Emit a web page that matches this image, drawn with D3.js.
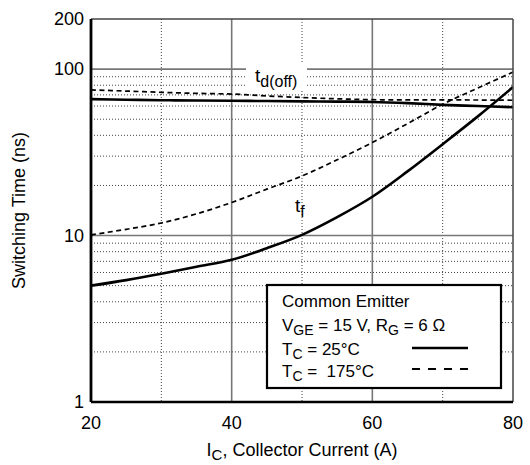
<!DOCTYPE html>
<html>
<head>
<meta charset="utf-8">
<script src="https://cdn.jsdelivr.net/npm/d3@7"></script>
<style>
body { margin: 0; background: #fff; }
text { font-family: "Liberation Sans", Arial, Helvetica, sans-serif; fill: #000; }
</style>
</head>
<body>
<div id="chart-area"></div>
<script>
// values
var currents = [20, 25, 30, 35, 40, 45, 50, 55, 60, 65, 70, 75, 80];
var tdOff25  = [66, 65.5, 65, 64.8, 64.5, 64.3, 64, 63.8, 63.5, 62.5, 61, 60, 59];
var tdOff175 = [75, 73.8, 72.5, 71.5, 70.8, 69, 67.5, 66.3, 65.5, 65.4, 65.3, 65.2, 65];
var tf25     = [5.0, 5.4, 5.9, 6.5, 7.15, 8.4, 10.1, 12.9, 17.1, 24.3, 35.4, 52, 78];
var tf175    = [10.1, 10.9, 11.9, 13.5, 15.8, 19.0, 22.8, 28.5, 36.2, 47, 61.5, 77, 96];

var xTicks = [20, 40, 60, 80];
var xMinor = [30, 50, 70];
var yTicks = [1, 10, 100, 200];
var yMajor = [10, 100];
var yMinor = [2, 3, 4, 5, 6, 7, 8, 9, 20, 30, 40, 50, 60, 70, 80, 90];

var margin = {left: 91, top: 19, right: 17, bottom: 63};
var W = 530, H = 465;
var width = W - margin.left - margin.right;
var height = H - margin.top - margin.bottom;

var svg = d3.select("#chart-area")
    .append("svg")
        .attr("width", W)
        .attr("height", H);

var g = svg.append("g")
    .attr("transform", "translate(" + margin.left + "," + margin.top + ")");

var x = d3.scaleLinear().domain([20, 80]).range([0, width]);
var y = d3.scaleLog().domain([1, 200]).range([height, 0]);

g.append("clipPath").attr("id", "plot-clip")
  .append("rect").attr("width", width).attr("height", height);

// minor dotted grid
g.selectAll(".vminor").data(xMinor).enter().append("line")
    .attr("x1", function(d){ return x(d); }).attr("x2", function(d){ return x(d); })
    .attr("y1", 0).attr("y2", height)
    .attr("stroke", "#444").attr("stroke-width", 1).attr("stroke-dasharray", "1,2");

g.selectAll(".hminor").data(yMinor).enter().append("line")
    .attr("x1", 0).attr("x2", width)
    .attr("y1", function(d){ return y(d); }).attr("y2", function(d){ return y(d); })
    .attr("stroke", "#444").attr("stroke-width", 1).attr("stroke-dasharray", "1,2");

// major solid grid
g.selectAll(".vmajor").data([40, 60]).enter().append("line")
    .attr("x1", function(d){ return x(d); }).attr("x2", function(d){ return x(d); })
    .attr("y1", 0).attr("y2", height)
    .attr("stroke", "#777").attr("stroke-width", 1.6);

g.selectAll(".hmajor").data(yMajor).enter().append("line")
    .attr("x1", 0).attr("x2", width)
    .attr("y1", function(d){ return y(d); }).attr("y2", function(d){ return y(d); })
    .attr("stroke", "#777").attr("stroke-width", 1.6);

// white patch behind t_d(off)
g.append("rect")
    .attr("x", 246 - margin.left).attr("y", 62 - margin.top)
    .attr("width", 61).attr("height", 27)
    .attr("fill", "#fff");

var line = d3.line()
    .x(function(d){ return x(d[0]); })
    .y(function(d){ return y(d[1]); })
    .curve(d3.curveCatmullRom.alpha(0.5));

function pairs(vals) {
    return currents.map(function(c, i){ return [c, vals[i]]; });
}

var curves = g.append("g").attr("clip-path", "url(#plot-clip)");

[tdOff25, tf25].forEach(function(vals){
    curves.append("path")
        .attr("d", line(pairs(vals)))
        .attr("fill", "none").attr("stroke", "#000").attr("stroke-width", 2.6);
});
[tdOff175, tf175].forEach(function(vals){
    curves.append("path")
        .attr("d", line(pairs(vals)))
        .attr("fill", "none").attr("stroke", "#000").attr("stroke-width", 1.7)
        .attr("stroke-dasharray", "5,3.5");
});

// frame
g.append("line").attr("x1", 0).attr("x2", width).attr("y1", 0).attr("y2", 0)
    .attr("stroke", "#444").attr("stroke-width", 1.5);
g.append("line").attr("x1", width).attr("x2", width).attr("y1", 0).attr("y2", height)
    .attr("stroke", "#444").attr("stroke-width", 1.5);
g.append("line").attr("x1", 0).attr("x2", width).attr("y1", height).attr("y2", height)
    .attr("stroke", "#000").attr("stroke-width", 2.6);
g.append("line").attr("x1", 0).attr("x2", 0).attr("y1", 0).attr("y2", height)
    .attr("stroke", "#000").attr("stroke-width", 2.8);

// tick labels
g.selectAll(".xlab").data(xTicks).enter().append("text")
    .attr("x", function(d){ return x(d); })
    .attr("y", height + 27)
    .attr("text-anchor", "middle")
    .attr("font-size", "18px")
    .text(function(d){ return d; });

g.selectAll(".ylab").data(yTicks).enter().append("text")
    .attr("x", -7)
    .attr("y", function(d){ return y(d); })
    .attr("dy", "0.35em")
    .attr("text-anchor", "end")
    .attr("font-size", "18px")
    .text(function(d){ return d; });

// axis titles
var xt = svg.append("text")
    .attr("x", margin.left + width / 2)
    .attr("y", 456)
    .attr("text-anchor", "middle")
    .attr("font-size", "18px");
xt.append("tspan").text("I");
xt.append("tspan").attr("font-size", "15px").attr("dy", 4).text("C");
xt.append("tspan").attr("dy", -4).text(", Collector Current (A)");

svg.append("text")
    .attr("transform", "translate(25," + (margin.top + height / 2) + ") rotate(-90)")
    .attr("text-anchor", "middle")
    .attr("font-size", "18px")
    .text("Switching Time (ns)");

// curve labels
var tdl = svg.append("text").attr("x", 255).attr("y", 82).attr("font-size", "19px");
tdl.append("tspan").text("t");
tdl.append("tspan").attr("font-size", "16px").attr("dy", 5).text("d(off)");

var tfl = svg.append("text").attr("x", 295).attr("y", 212).attr("font-size", "19px");
tfl.append("tspan").text("t");
tfl.append("tspan").attr("font-size", "16px").attr("dy", 5).text("f");

// legend
var lg = svg.append("g");
lg.append("rect")
    .attr("x", 267).attr("y", 285).attr("width", 234).attr("height", 103)
    .attr("fill", "#fff").attr("stroke", "#000").attr("stroke-width", 2.2);

lg.append("text").attr("x", 282).attr("y", 307).attr("font-size", "17px").text("Common Emitter");

var l2 = lg.append("text").attr("x", 282).attr("y", 331).attr("font-size", "17px");
l2.append("tspan").text("V");
l2.append("tspan").attr("font-size", "14px").attr("dy", 4).text("GE");
l2.append("tspan").attr("dy", -4).text(" = 15 V, R");
l2.append("tspan").attr("font-size", "14px").attr("dy", 4).text("G");
l2.append("tspan").attr("dy", -4).text(" = 6 \u03A9");

var l3 = lg.append("text").attr("x", 282).attr("y", 355).attr("font-size", "17px");
l3.append("tspan").text("T");
l3.append("tspan").attr("font-size", "14px").attr("dy", 4).text("C");
l3.append("tspan").attr("dy", -4).text(" = 25\u00B0C");

var l4 = lg.append("text").attr("x", 282).attr("y", 377).attr("font-size", "17px")
    .attr("xml:space", "preserve").style("white-space", "pre");
l4.append("tspan").text("T");
l4.append("tspan").attr("font-size", "14px").attr("dy", 4).text("C");
l4.append("tspan").attr("dy", -4).text(" =  175\u00B0C");

lg.append("line").attr("x1", 412).attr("x2", 468).attr("y1", 348).attr("y2", 348)
    .attr("stroke", "#000").attr("stroke-width", 2.4);
lg.append("line").attr("x1", 412).attr("x2", 468).attr("y1", 369).attr("y2", 369)
    .attr("stroke", "#000").attr("stroke-width", 2)
    .attr("stroke-dasharray", "8,8");
</script>
</body>
</html>
